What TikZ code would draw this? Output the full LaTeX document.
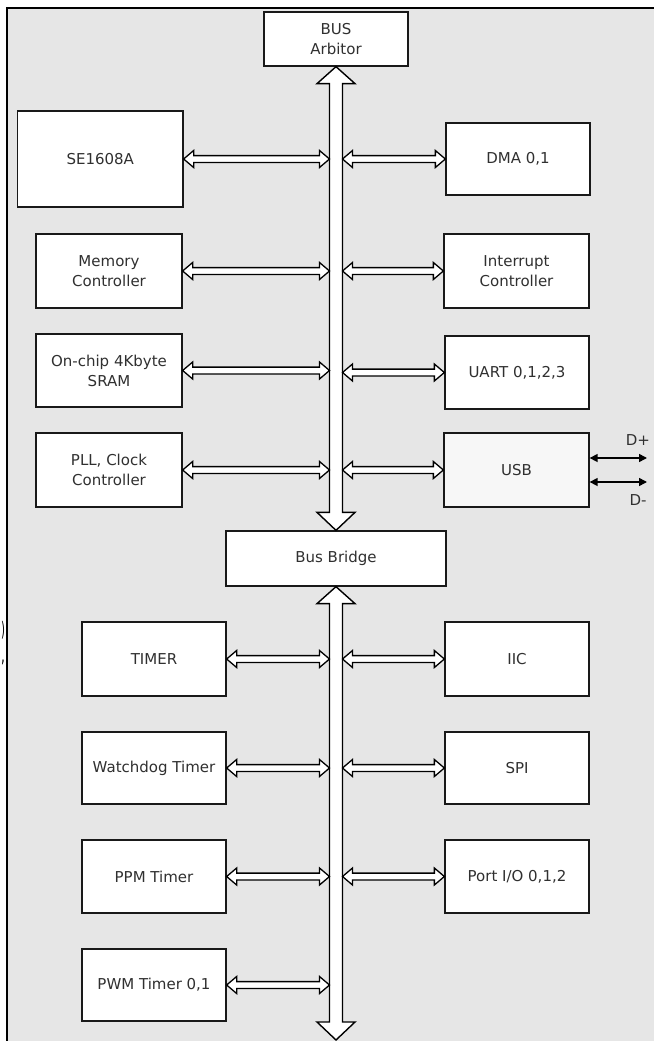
\documentclass[tikz,border=0pt]{standalone}
\usepackage{fontspec}
\setmainfont{DejaVu Sans}
\usetikzlibrary{calc,arrows.meta}
\definecolor{bgtex}{HTML}{E6E6E6}
\definecolor{txt}{HTML}{303030}
\newcommand{\harrpath}[2]{%
  let \p1=(#1), \p2=(#2) in
      (\x1,\y1) -- (\x1+10pt,\y1+8.5pt) -- (\x1+10pt,\y1+3.4pt) -- (\x2-10pt,\y1+3.4pt)
      -- (\x2-10pt,\y1+8.5pt) -- (\x2,\y1) -- (\x2-10pt,\y1-8.5pt) -- (\x2-10pt,\y1-3.4pt)
      -- (\x1+10pt,\y1-3.4pt) -- (\x1+10pt,\y1-8.5pt) -- cycle}
\newcommand{\varrpath}[2]{%
  let \p1=(#1), \p2=(#2) in
      (\x1,\y1) -- (\x1+19pt,\y1-17pt) -- (\x1+6.5pt,\y1-17pt) -- (\x1+6.5pt,\y2+18pt)
      -- (\x1+19pt,\y2+18pt) -- (\x1,\y2) -- (\x1-19pt,\y2+18pt) -- (\x1-6.5pt,\y2+18pt)
      -- (\x1-6.5pt,\y1-17pt) -- (\x1-19pt,\y1-17pt) -- cycle}
\tikzset{
  blk/.style={draw=black!90, line width=1.3pt, fill=white, inner sep=0pt,
    align=center, text=txt, font=\fontsize{15}{20}\selectfont},
  harr/.style={draw=black, line width=1.3pt, fill=white},
  varr/.style={draw=black, line width=1.4pt, fill=white},
  darr/.style={draw=black, line width=1.5pt, {Triangle[length=8pt,width=8pt]}-{Triangle[length=8pt,width=8pt]}},
  lbl/.style={text=txt, font=\fontsize{15}{18}\selectfont, inner sep=0pt},
  stray/.style={inner sep=0pt, font=\fontsize{20}{22}\selectfont}
}
\begin{document}
\begin{tikzpicture}[x=1pt,y=-1pt]
\useasboundingbox (0,0) rectangle (654,1041);
\fill[white] (0,0) rectangle (654,1041);
\fill[bgtex] (7,8) rectangle (654,1041);
\draw[line width=2pt] (7,1041) -- (7,8) -- (654,8);
\node[stray] (sp1) at (3,630) {\scalebox{0.5}[1]{)}};
\node[stray] (sp2) at (3,662) {\scalebox{0.6}[1]{,}};

% bus coordinates
\coordinate (busL) at (329.5,0);
\coordinate (busR) at (342.5,0);
\coordinate (busend) at (336,1040);

% nodes
\node[blk, minimum width=144pt, minimum height=54pt] (arb) at (336,39) {BUS\\Arbitor};
\node[blk, minimum width=220pt, minimum height=55pt] (bridge) at (336,558.5) {Bus Bridge};

\node[blk, minimum width=165.5pt, minimum height=96pt] (se) at (100.25,159) {SE1608A};
\node[blk, minimum width=144pt, minimum height=72pt] (dma) at (518,159) {DMA 0,1};
\node[blk, minimum width=146pt, minimum height=74pt] (mem) at (109,271) {Memory\\Controller};
\node[blk, minimum width=145pt, minimum height=74pt] (irq) at (516.5,271) {Interrupt\\Controller};
\node[blk, minimum width=146pt, minimum height=73pt] (sram) at (109,370.5) {On-chip 4Kbyte\\SRAM};
\node[blk, minimum width=144pt, minimum height=73pt] (uart) at (517,372.5) {UART 0,1,2,3};
\node[blk, minimum width=146pt, minimum height=74pt] (pll) at (109,470) {PLL, Clock\\Controller};
\node[blk, minimum width=145pt, minimum height=74pt, fill=black!3] (usb) at (516.5,470) {USB};

\node[blk, minimum width=144pt, minimum height=74pt] (timer) at (154,659) {TIMER};
\node[blk, minimum width=144pt, minimum height=74pt] (iic) at (517,659) {IIC};
\node[blk, minimum width=144pt, minimum height=72pt] (wdt) at (154,768) {Watchdog Timer};
\node[blk, minimum width=144pt, minimum height=72pt] (spi) at (517,768) {SPI};
\node[blk, minimum width=144pt, minimum height=73pt] (ppm) at (154,876.5) {PPM Timer};
\node[blk, minimum width=144pt, minimum height=73pt] (port) at (517,876.5) {Port I/O 0,1,2};
\node[blk, minimum width=144pt, minimum height=72pt] (pwm) at (154,985) {PWM Timer 0,1};

% buses
\draw[varr] \varrpath{arb.south}{bridge.north};
\draw[varr] \varrpath{bridge.south}{busend};

% horizontal connectors
\foreach \blkname in {se,mem,sram,pll,timer,wdt,ppm,pwm}{
  \coordinate (\blkname-b) at (\blkname.east -| busL);
  \draw[harr] \harrpath{\blkname.east}{\blkname-b};
}
\foreach \blkname in {dma,irq,uart,usb,iic,spi,port}{
  \coordinate (\blkname-b) at (busR |- \blkname.west);
  \draw[harr] \harrpath{\blkname-b}{\blkname.west};
}

% USB lines
\coordinate (dp) at (647,458);
\coordinate (dm) at (647,482);
\coordinate (dps) at (usb.east |- dp);
\coordinate (dms) at (usb.east |- dm);
\draw[darr] (dps) -- (dp);
\draw[darr] (dms) -- (dm);
\node[lbl] (dplbl) at (638,440) {D+};
\node[lbl] (dmlbl) at (638,500) {D-};
\end{tikzpicture}
\end{document}
